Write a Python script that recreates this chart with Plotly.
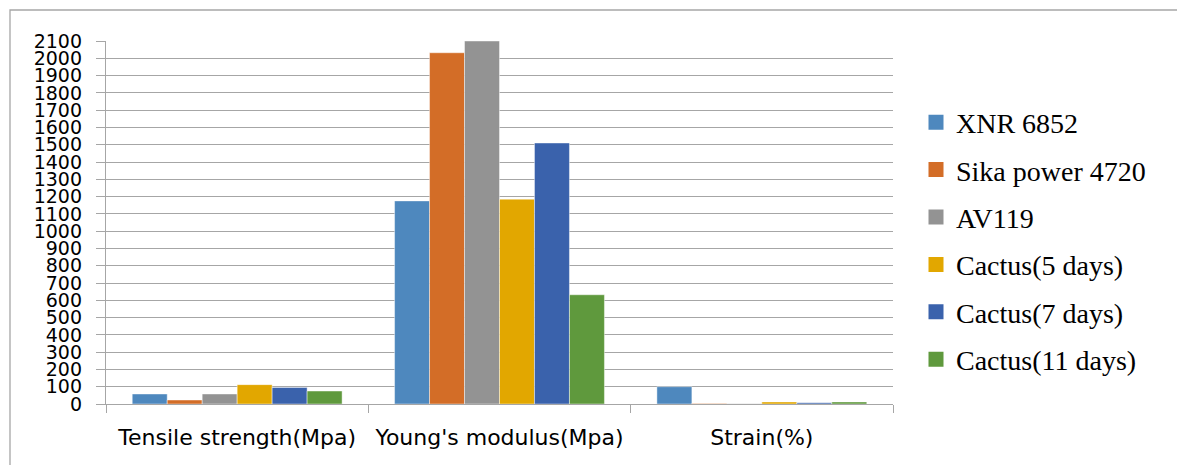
import plotly.graph_objects as go

# Mechanical properties of the adhesives tested
categories = ["Tensile strength(Mpa)", "Young's modulus(Mpa)", "Strain(%)"]
series_names = ["XNR 6852", "Sika power 4720", "AV119",
                "Cactus(5 days)", "Cactus(7 days)", "Cactus(11 days)"]
xnr_6852 = [58, 1175, 100]
sika_power_4720 = [23, 2032, 3]
av119 = [58, 2100, 2]
cactus_5_days = [112, 1185, 12]
cactus_7_days = [96, 1510, 7]
cactus_11_days = [75, 632, 12]
y_ticks = list(range(0, 2101, 100))

series_values = [xnr_6852, sika_power_4720, av119,
                 cactus_5_days, cactus_7_days, cactus_11_days]
colors = ["#4E88BE", "#D36D27", "#939393", "#E2A700", "#3A62AC", "#5F993D"]

W, H = 1177, 465
L, R, T, B = 106, 893, 41, 404

fig = go.Figure()
for name, vals, col in zip(series_names, series_values, colors):
    fig.add_trace(go.Bar(
        x=categories, y=vals, name=name, showlegend=False,
        marker=dict(color=col, line=dict(color="rgba(255,255,255,0.55)", width=0.8)),
    ))
# square legend markers
for i, (name, col) in enumerate(zip(series_names, colors)):
    fig.add_trace(go.Scatter(
        x=[None], y=[None], mode="markers", name=name, legendgroup=f"g{i}",
        marker=dict(symbol="square", size=15, color=col),
    ))

grid = "#A6A6A6"
px_x = lambda p: (p - L) / (R - L)
px_y = lambda p: (B - p) / (B - T)

fig.update_layout(
    width=W, height=H,
    margin=dict(l=L, r=W - R, t=T, b=H - B, pad=0),
    paper_bgcolor="white", plot_bgcolor="white",
    barmode="group", bargap=0.2, bargroupgap=0,
    font=dict(family="DejaVu Sans", color="#000000"),
    legend=dict(
        x=px_x(916), y=px_y(241), xanchor="left", yanchor="middle",
        font=dict(family="Liberation Serif", size=28, color="#000000"),
        tracegroupgap=8, itemsizing="trace", bgcolor="rgba(0,0,0,0)",
    ),
    xaxis=dict(
        showline=True, linecolor=grid, linewidth=1.3,
        ticks="outside", tickson="boundaries", ticklen=8, tickcolor=grid, tickwidth=1.3,
        tickfont=dict(size=22), showgrid=False, ticklabelstandoff=13,
    ),
    yaxis=dict(
        range=[0, 2100], tickvals=y_ticks, ticktext=[str(v) for v in y_ticks],
        showline=True, linecolor=grid, linewidth=1.3,
        ticks="outside", ticklen=9, tickcolor=grid, tickwidth=1.3,
        showgrid=True, gridcolor=grid, gridwidth=1.3, zeroline=False,
        tickfont=dict(size=19), ticklabelstandoff=10,
    ),
    shapes=[dict(
        type="path", xref="paper", yref="paper",
        path=(f"M {px_x(10)} {px_y(H + 40)} "
              f"L {px_x(10)} {px_y(10)} "
              f"L {px_x(W + 40)} {px_y(10)}"),
        line=dict(color=grid, width=1.3),
    )],
)

fig.write_html("out.html")
